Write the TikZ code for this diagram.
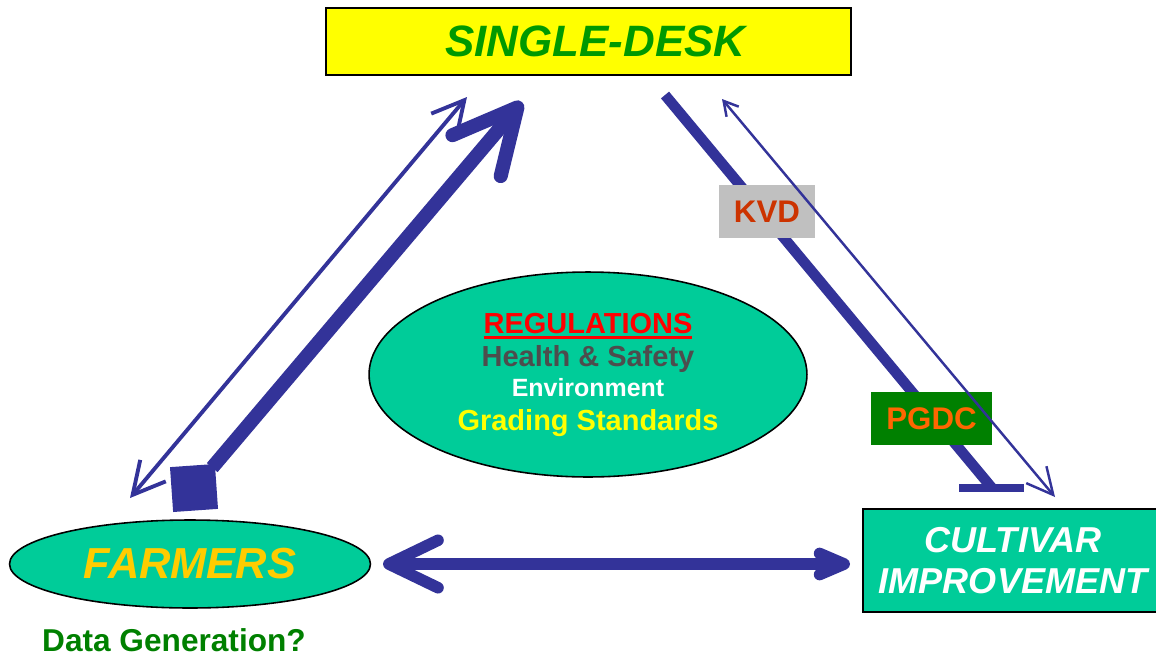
\documentclass[tikz,border=0pt]{standalone}
\usepackage{fontspec}
\setmainfont{Liberation Sans}
\usetikzlibrary{arrows.meta,shapes.geometric}

\definecolor{arrowblue}{RGB}{51,51,153}
\definecolor{sea}{RGB}{0,204,153}
\definecolor{deskyellow}{RGB}{255,255,0}
\definecolor{deskgreen}{RGB}{0,153,0}
\definecolor{farmgold}{RGB}{255,204,0}
\definecolor{healthgray}{RGB}{77,77,77}
\definecolor{kvdgray}{RGB}{192,192,192}
\definecolor{kvdred}{RGB}{204,51,0}
\definecolor{pgdcgreen}{RGB}{0,128,0}
\definecolor{pgdcorange}{RGB}{255,102,0}

% thick underline for the heading in the ellipse
\newcommand{\thickunder}[1]{\vtop{\hbox{#1}\kern1.3pt\hrule height 1.7pt}}

\tikzset{
  deskbox/.style={draw,line width=1.1pt,fill=deskyellow,minimum width=10.5cm,
    minimum height=1.34cm,inner sep=0pt,text=deskgreen,
    font=\fontsize{25}{30}\selectfont\bfseries\itshape},
  seaellipse/.style={ellipse,draw,line width=0.9pt,fill=sea,inner sep=0pt},
  tagbox/.style={minimum height=1.06cm,inner sep=0pt,
    font=\fontsize{17.8}{20}\selectfont\bfseries},
  link/.style={draw=arrowblue}
}

\begin{document}
\begin{tikzpicture}[x=0.02cm,y=-0.02cm]
  \useasboundingbox (0,0) rectangle (1156,656);
  % the four corners of the triangle
  \node[deskbox]    (desk)     at (588.5,41.5) {\hspace*{0.28cm}SINGLE-DESK};
  \node[seaellipse,minimum width=8.76cm,minimum height=4.1cm] (regs) at (588,374.5) {};
  \node[align=center,font=\fontsize{16.5}{19.3}\selectfont\bfseries] (regtext) at (588,375)
       {\textcolor{red}{\thickunder{REGULATIONS}}\\[-0.6pt]
        \textcolor{healthgray}{Health \& Safety}\\[-2.3pt]
        {\fontsize{14.2}{19.3}\selectfont\textcolor{white}{Environment}}\\
        \textcolor{deskyellow}{Grading Standards}};
  \node[seaellipse,minimum width=7.22cm,minimum height=1.76cm,text=farmgold,
        font=\fontsize{24.7}{28}\selectfont\bfseries\itshape] (farmers) at (190,564) {FARMERS};
  \node[anchor=base,text=pgdcgreen,font=\fontsize{18}{20}\selectfont\bfseries]
        (datagen) at (174,651) {Data Generation?};
  \node[draw,line width=1.2pt,fill=sea,minimum width=6cm,minimum height=2.06cm,inner sep=0pt,
        align=center,text=white,font=\fontsize{20.5}{23.3}\selectfont\bfseries\itshape]
        (cultivar) at (1013,560.5) {CULTIVAR\\IMPROVEMENT};
  % Left-hand side: farmers <-> single desk
  \coordinate (fa)  at (130,498);
  \coordinate (sa)  at (467,97);
  \coordinate (sb)  at (522,102);
  \draw[link,line width=2.2pt,{Straight Barb[length=18pt,width=19pt]}-{Straight Barb[length=18pt,width=19pt]}]
        (fa) -- (sa);
  \node[fill=arrowblue,minimum size=0.9cm,inner sep=0pt,rotate=4] (farmsq) at (194,488) {};
  \draw[link,line width=8pt,-{Straight Barb[round,length=36pt,width=36pt]}]
        ([shift={(-3,4)}]farmsq.north east) -- (sb);
  % Right-hand side: single desk <-> cultivar improvement
  \coordinate (sc)  at (665,95);
  \coordinate (tee) at (992,488);
  \draw[link,line width=6pt] (sc) -- (tee);
  \draw[link,line width=5pt] (tee) ++(-33,0) -- ++(65,0);
  \node[tagbox,fill=kvdgray,text=kvdred,minimum width=1.92cm]   (kvd)  at (767,211.5) {KVD};
  \node[tagbox,fill=pgdcgreen,text=pgdcorange,minimum width=2.42cm] (pgdc) at (931.5,418.5) {PGDC};
  \coordinate (sd)  at (722,99);
  \coordinate (cb)  at (1055,497);
  \draw[link,line width=1.4pt,{Straight Barb[length=8pt,width=9pt]}-{Straight Barb[length=15pt,width=15pt]}]
        (sd) -- (cb);
  % Bottom: farmers <-> cultivar improvement
  \coordinate (fc)  at (383,564);
  \coordinate (cc)  at (850,564);
  \draw[link,line width=6.6pt,{Straight Barb[round,length=28pt,width=27pt]}-{Straight Barb[round,length=14pt,width=12pt]}]
        (fc) -- (cc);
\end{tikzpicture}
\end{document}
